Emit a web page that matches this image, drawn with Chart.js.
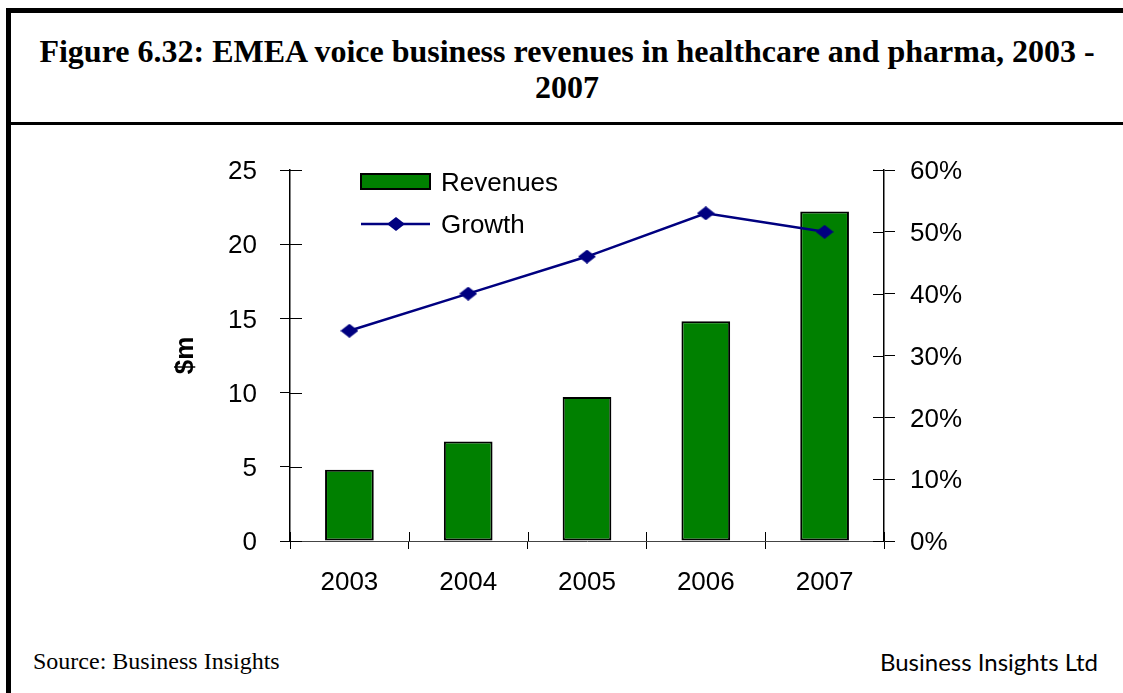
<!DOCTYPE html>
<html>
<head>
<meta charset="utf-8">
<script src="https://cdn.jsdelivr.net/npm/chart.js@4.4.1/dist/chart.umd.min.js"></script>
<style>
  html, body { margin: 0; padding: 0; background: #fff; }
  #page { position: relative; width: 1123px; height: 693px; overflow: hidden; background: #fff; }
  .rule { position: absolute; background: #000; }
  #title {
    position: absolute; left: 11px; right: 0; top: 33px;
    text-align: center; font: bold 32px "Liberation Serif", "Times New Roman", serif;
    line-height: 36px; color: #000;
  }
  #source {
    position: absolute; left: 33px; top: 648px;
    font: 24px "Liberation Serif", "Times New Roman", serif; color: #000;
  }
  #brand {
    position: absolute; right: 25px; top: 647px;
    font: 24px Lato, "Open Sans", sans-serif; color: #000;
  }
  canvas { position: absolute; left: 0; top: 0; }
</style>
</head>
<body>
<div id="page">
  <div class="rule" style="left:6px; top:8px; width:5px; height:685px;"></div>
  <div class="rule" style="left:6px; top:8px; width:1117px; height:5px;"></div>
  <div class="rule" style="left:11px; top:122px; width:1112px; height:3px;"></div>
  <div id="title">Figure 6.32: EMEA voice business revenues in healthcare and pharma, 2003 -<br>2007</div>
  <div id="source">Source: Business Insights</div>
  <div id="brand">Business Insights Ltd</div>
  <canvas id="chart" width="1123" height="693"></canvas>
</div>
<script>
// Years on the category axis
const years = ['2003', '2004', '2005', '2006', '2007'];
// Revenues, $m
const revenues = [4.8, 6.7, 9.7, 14.8, 22.2];
// Year-on-year growth, %
const growth = [34, 40, 46, 53, 50];
// Axis tick settings
const revenueTicks = { min: 0, max: 25, step: 5 };
const growthTicks = { min: 0, max: 60, step: 10 };

const FONT = "'Liberation Sans', Arial, sans-serif";
const BAR_GREEN = '#008000';
const LINE_NAVY = '#000080';

// Slightly flattened diamond marker for the growth line
function makeDiamond(w, h, color) {
  const c = document.createElement('canvas');
  c.width = w; c.height = h;
  const g = c.getContext('2d');
  g.fillStyle = color;
  g.beginPath();
  g.moveTo(w / 2, 0);
  g.lineTo(w, h / 2);
  g.lineTo(w / 2, h);
  g.lineTo(0, h / 2);
  g.closePath();
  g.fill();
  return c;
}
const diamond = makeDiamond(18, 14, LINE_NAVY);

// Tick marks that cross the axis lines (inner half drawn here)
const crossTicks = {
  id: 'crossTicks',
  afterDraw(chart) {
    const { ctx, scales } = chart;
    ctx.save();
    ctx.strokeStyle = '#000';
    ctx.lineWidth = 1;
    ctx.beginPath();
    const y = scales.y, y1 = scales.y1, x = scales.x;
    y.ticks.forEach((t, i) => {
      const py = Math.round(y.getPixelForTick(i)) + 0.5;
      ctx.moveTo(y.right, py); ctx.lineTo(y.right + 12, py);
    });
    y1.ticks.forEach((t, i) => {
      const py = Math.round(y1.getPixelForTick(i)) + 0.5;
      ctx.moveTo(y1.left, py); ctx.lineTo(y1.left - 11, py);
    });
    for (let i = 0; i <= years.length; i++) {
      const px = Math.round(x.getPixelForValue(i - 0.5)) + 0.5;
      ctx.moveTo(px, x.top); ctx.lineTo(px, x.top - 9);
    }
    ctx.stroke();
    ctx.restore();
  }
};

// Legend drawn inside the plot area, top left
const insideLegend = {
  id: 'insideLegend',
  afterDraw(chart) {
    const { ctx } = chart;
    const ds = chart.data.datasets;
    ctx.save();
    ctx.font = '26px ' + FONT;
    ctx.textBaseline = 'middle';
    // bar swatch
    ctx.fillStyle = ds[1].backgroundColor;
    ctx.fillRect(361, 174, 69, 15);
    ctx.strokeStyle = '#000';
    ctx.lineWidth = 2;
    ctx.strokeRect(361, 174, 69, 15);
    ctx.fillStyle = '#000';
    ctx.fillText(ds[1].label, 441, 184);
    // line swatch
    ctx.strokeStyle = ds[0].borderColor;
    ctx.lineWidth = ds[0].borderWidth;
    ctx.beginPath();
    ctx.moveTo(361, 224); ctx.lineTo(430, 224);
    ctx.stroke();
    ctx.drawImage(diamond, 396 - 9, 224 - 7);
    ctx.fillStyle = '#000';
    ctx.fillText(ds[0].label, 441, 226);
    ctx.restore();
  }
};

new Chart(document.getElementById('chart'), {
  type: 'bar',
  data: {
    labels: years,
    datasets: [
      {
        type: 'line',
        label: 'Growth',
        data: growth,
        yAxisID: 'y1',
        borderColor: LINE_NAVY,
        backgroundColor: LINE_NAVY,
        borderWidth: 2.5,
        pointStyle: diamond,
        pointRadius: 9,
        tension: 0,
        order: 0
      },
      {
        type: 'bar',
        label: 'Revenues',
        data: revenues,
        yAxisID: 'y',
        backgroundColor: BAR_GREEN,
        borderColor: '#000',
        borderWidth: 2,
        borderSkipped: false,
        categoryPercentage: 1,
        barPercentage: 0.41,
        order: 1
      }
    ]
  },
  options: {
    responsive: false,
    animation: false,
    events: [],
    layout: { padding: { top: 170, left: 0, right: 0, bottom: 0 } },
    plugins: {
      legend: { display: false },
      tooltip: { enabled: false },
      title: { display: false }
    },
    scales: {
      x: {
        position: 'bottom',
        offset: true,
        grid: { offset: true, drawOnChartArea: false, drawTicks: true, tickLength: 8, color: '#000', lineWidth: 1 },
        border: { display: true, color: '#444', width: 1 },
        ticks: { color: '#000', font: { family: FONT, size: 26 }, padding: 18, maxRotation: 0, autoSkip: false },
        afterFit(s) { s.height = 152; }
      },
      y: {
        position: 'left',
        min: revenueTicks.min, max: revenueTicks.max,
        grid: { drawOnChartArea: false, drawTicks: true, tickLength: 10, color: '#000', lineWidth: 1 },
        border: { display: true, color: '#000', width: 1.5 },
        ticks: { stepSize: revenueTicks.step, color: '#000', font: { family: FONT, size: 26 }, padding: 23, labelOffset: 2 },
        title: {
          display: true, text: '$m', color: '#000',
          font: { family: FONT, size: 26, weight: 'bold' },
          padding: { top: 170, bottom: 0 }
        },
        afterFit(s) { s.width = 290; }
      },
      y1: {
        position: 'right',
        min: growthTicks.min, max: growthTicks.max,
        grid: { drawOnChartArea: false, drawTicks: true, tickLength: 11, color: '#000', lineWidth: 1 },
        border: { display: true, color: '#000', width: 1.5 },
        ticks: { stepSize: growthTicks.step, color: '#000', font: { family: FONT, size: 26 }, padding: 15, labelOffset: 2,
                 callback: v => v + '%' },
        afterFit(s) { s.width = 239; }
      }
    }
  },
  plugins: [crossTicks, insideLegend]
});
</script>
</body>
</html>
